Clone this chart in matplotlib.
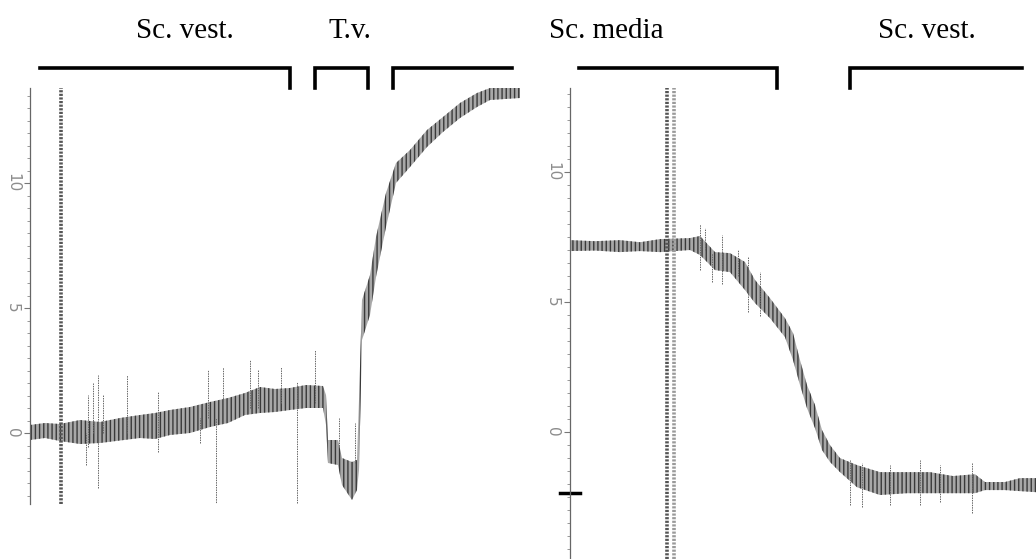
import matplotlib
matplotlib.use("Agg")
import matplotlib.pyplot as plt
from matplotlib.transforms import blended_transform_factory

# ---- data (time in s, level in arbitrary units) ----
left_t = [0.0, 1.5, 3.0, 5.0, 7.0, 9.0, 11.0, 12.5, 14.0, 16.0, 18.0, 19.8,
          21.5, 23.0, 24.5, 26.0, 27.6, 29.3, 29.6, 29.8, 30.8, 31.2, 32.2,
          32.7, 32.9, 33.2, 34.0, 34.6, 35.6, 36.6, 38.0, 39.7, 41.3, 43.0,
          44.7, 46.0, 49.0]
left_hi = [0.32, 0.40, 0.36, 0.52, 0.44, 0.60, 0.72, 0.80, 0.92, 1.04, 1.24,
           1.40, 1.60, 1.84, 1.76, 1.80, 1.92, 1.88, 1.52, -0.28, -0.28,
           -1.00, -1.16, -1.08, 1.32, 5.32, 6.32, 7.84, 9.60, 10.80, 11.32,
           12.12, 12.64, 13.20, 13.60, 13.80, 13.80]
left_lo = [-0.28, -0.20, -0.32, -0.44, -0.40, -0.30, -0.20, -0.24, -0.08,
           0.00, 0.24, 0.40, 0.72, 0.80, 0.84, 0.92, 1.00, 1.00, 0.32, -1.20,
           -1.28, -2.08, -2.68, -2.28, -1.48, 3.72, 4.72, 6.24, 8.24, 10.00,
           10.64, 11.44, 12.04, 12.60, 13.04, 13.32, 13.40]

left_spike_t = [5.6, 5.8, 6.3, 6.8, 7.3, 9.7, 12.8, 17.0, 17.8, 18.6, 19.3,
                22.0, 22.8, 25.1, 26.7, 28.5, 30.9, 32.5]
left_spike_hi = [0.0, 1.52, 2.00, 2.32, 1.52, 2.32, 1.64, 0.6, 2.52, 0.6,
                 2.64, 2.92, 2.52, 2.64, 2.04, 3.32, 0.6, 0.4]
left_spike_lo = [-1.28, -0.56, 0.0, -2.20, 0.0, 0.0, -0.76, -0.4, 0.6, -2.88,
                 0.8, 1.0, 1.0, 1.2, -2.80, 1.2, -0.5, -1.2]

right_t = [0.0, 2.5, 5.0, 7.0, 9.0, 12.0, 13.0, 14.5, 16.0, 17.5, 18.5, 20.0,
           21.5, 22.3, 23.0, 23.7, 24.5, 25.2, 26.0, 27.0, 28.7, 31.0, 33.7,
           36.0, 38.3, 40.5, 41.5, 43.5, 45.0, 46.6]
right_hi = [7.38, 7.34, 7.38, 7.30, 7.42, 7.46, 7.54, 6.92, 6.88, 6.54, 5.85,
            5.15, 4.38, 3.81, 2.77, 1.81, 1.04, 0.08, -0.50, -1.00, -1.27,
            -1.54, -1.54, -1.54, -1.69, -1.62, -1.92, -1.92, -1.77, -1.77]
right_lo = [6.96, 6.98, 6.92, 6.96, 6.92, 7.00, 6.81, 6.23, 6.15, 5.46, 4.96,
            4.38, 3.65, 2.77, 1.81, 0.92, 0.15, -0.69, -1.15, -1.54, -2.12,
            -2.42, -2.35, -2.35, -2.35, -2.35, -2.23, -2.23, -2.27, -2.31]

right_spike_t = [13.0, 13.5, 14.2, 15.2, 16.8, 17.8, 19.0, 28.0, 29.2, 32.0,
                 35.0, 37.0, 40.2]
right_spike_hi = [8.00, 7.85, 6.90, 7.58, 7.00, 6.73, 6.15, -1.08, -1.19,
                  -1.27, -1.08, -1.27, -1.19]
right_spike_lo = [6.23, 7.00, 5.77, 5.69, 6.00, 4.62, 4.46, -2.81, -2.88,
                  -2.81, -2.81, -2.69, -3.12]

left_stim = [3.05]
right_stim = [9.65, 10.35]
right_ref_level = -2.35

left_ticks = [0, 5, 10]
right_ticks = [-5, 0, 5, 10]

# phase brackets: (start, end, legs, label, label position) per panel
left_phases = [(1.0, 26.0, "right", "Sc. vest.", 15.5),
               (28.5, 33.8, "both", "T.v.", 32.0),
               (36.3, 48.2, "left", None, None)]
right_phases = [(0.9, 20.7, "right", "Sc. media", 3.6),
                (28.0, 45.2, "left", "Sc. vest.", 35.7)]

# ---- layout (figure is 1036 x 559 px) ----
W, H = 1036, 559
fig = plt.figure(figsize=(W / 100, H / 100), dpi=100)
ax_l = fig.add_axes([30 / W, (H - 504) / H, 490 / W, 416 / H])
ax_r = fig.add_axes([570 / W, 0.0, 466 / W, 471 / H])

BRACKET_Y = 1 - 68 / H
LEG_Y = 1 - 88 / H
LABEL_Y = 1 - 38 / H


def draw_trace(ax, t, hi, lo, st, shi, slo, stim, stim_colors):
    ax.fill_between(t, lo, hi, facecolor="#a8a8a8", edgecolor="#3a3a3a",
                    hatch="||||", linewidth=0, zorder=2)
    ax.vlines(st, slo, shi, color="#666666", linewidth=0.7,
              linestyle=(0, (1.5, 1)), zorder=3)
    for x, c in zip(stim, stim_colors):
        ax.axvline(x, color=c, linewidth=2.6, linestyle=(0, (0.6, 0.4)),
                   zorder=4)


def style_axis(ax, ticks, ylim):
    for side in ("top", "right", "bottom"):
        ax.spines[side].set_visible(False)
    ax.spines["left"].set_color("#666666")
    ax.spines["left"].set_linestyle((0, (1, 1)))
    ax.spines["left"].set_linewidth(0.9)
    ax.set_xticks([])
    ax.set_yticks(ticks)
    ax.set_yticklabels([str(v) for v in ticks], rotation=270, va="center",
                       color="#8c8c8c", fontsize=11)
    ax.set_yticks([v / 2 for v in range(-12, 30)], minor=True)
    ax.tick_params(axis="y", which="major", length=4, width=0.8,
                   color="#777777", pad=3)
    ax.tick_params(axis="y", which="minor", length=2.5, width=0.6,
                   color="#888888")
    # set_yticks widens the view, so fix the limits afterwards
    ax.set_ylim(*ylim)
    ax.patch.set_alpha(0)


def draw_phases(ax, phases):
    tr = blended_transform_factory(ax.transData, fig.transFigure)
    for start, end, legs, label, lx in phases:
        xs, ys = [start, end], [BRACKET_Y, BRACKET_Y]
        if legs in ("left", "both"):
            xs, ys = [start] + xs, [LEG_Y] + ys
        if legs in ("right", "both"):
            xs, ys = xs + [end], ys + [LEG_Y]
        ax.plot(xs, ys, transform=tr, color="black", linewidth=2.6,
                solid_joinstyle="miter", clip_on=False)
        if label:
            ax.text(lx, LABEL_Y, label, transform=tr, ha="center",
                    va="baseline", fontsize=21, family="Liberation Serif")


draw_trace(ax_l, left_t, left_hi, left_lo, left_spike_t, left_spike_hi,
           left_spike_lo, left_stim, ["#555555"])
draw_trace(ax_r, right_t, right_hi, right_lo, right_spike_t, right_spike_hi,
           right_spike_lo, right_stim, ["#555555", "#9a9a9a"])

ax_l.set_xlim(0, 49.0)
ax_r.set_xlim(0, 46.6)

style_axis(ax_l, left_ticks, (-2.84, 13.8))
style_axis(ax_r, right_ticks, (-4.88, 13.23))

# bold reference mark on the right scale
ax_r.axhline(right_ref_level, xmin=-0.022, xmax=0.022, color="black",
             linewidth=2.5, clip_on=False)

draw_phases(ax_l, left_phases)
draw_phases(ax_r, right_phases)

fig.savefig("out.png", dpi=100)
